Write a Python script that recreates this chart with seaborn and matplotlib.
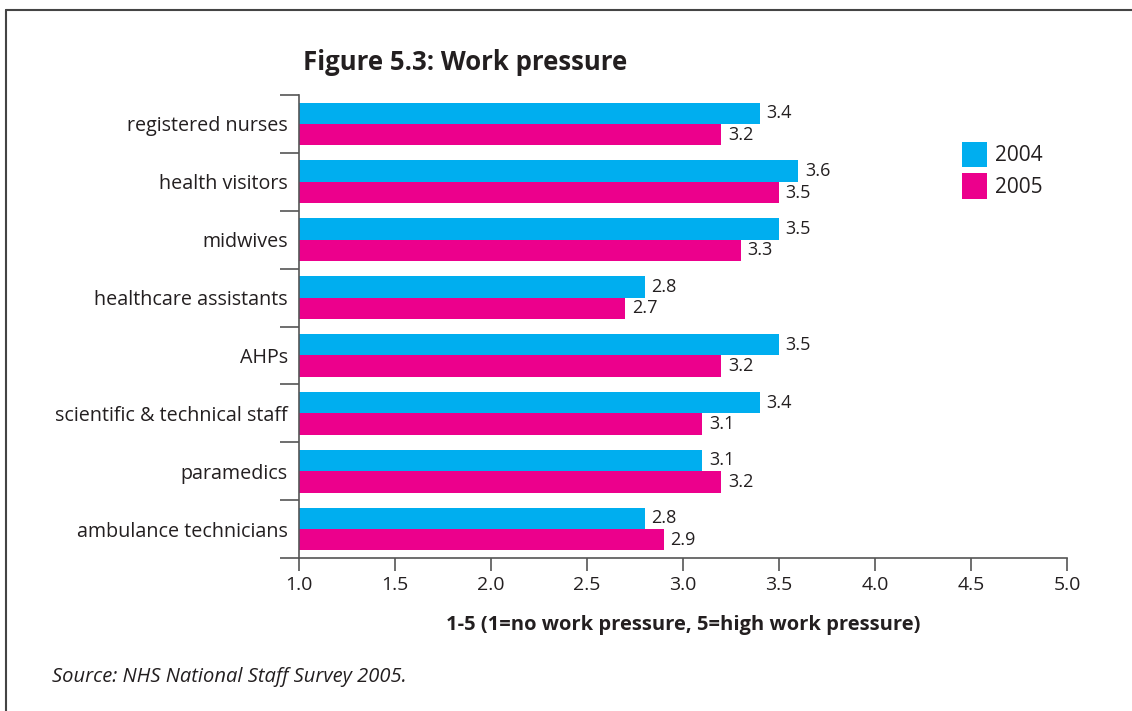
import matplotlib
matplotlib.use("Agg")
import matplotlib.pyplot as plt
from matplotlib.lines import Line2D
from matplotlib.patches import Patch
import seaborn as sns
import pandas as pd

# Staff groups and mean work-pressure scores (1-5 scale)
groups = ["registered nurses", "health visitors", "midwives", "healthcare assistants",
          "AHPs", "scientific & technical staff", "paramedics", "ambulance technicians"]
years = ["2004", "2005"]
score_2004 = [3.4, 3.6, 3.5, 2.8, 3.5, 3.4, 3.1, 2.8]
score_2005 = [3.2, 3.5, 3.3, 2.7, 3.2, 3.1, 3.2, 2.9]
x_ticks = [1.0, 1.5, 2.0, 2.5, 3.0, 3.5, 4.0, 4.5, 5.0]

colors = {"2004": "#00AEEF", "2005": "#EC008C"}
axis_color = "#555555"
text_color = "#231F20"

sns.set_theme(style="white")
plt.rcParams["font.family"] = ["Open Sans", "DejaVu Sans"]

df = pd.DataFrame({
    "group": groups * 2,
    "year": [years[0]] * len(groups) + [years[1]] * len(groups),
    "score": score_2004 + score_2005,
})

fig = plt.figure(figsize=(11.32, 7.11), dpi=100)
ax = fig.add_axes([299 / 1132, 1 - 558 / 711, (1067 - 299) / 1132, (558 - 95) / 711])

sns.barplot(data=df, y="group", x="score", hue="year", order=groups, hue_order=years,
            palette=colors, orient="h", width=0.74, saturation=1, linewidth=0,
            ax=ax, legend=False)

ax.set_xlim(1.0, 5.0)
ax.set_ylim(len(groups) - 0.5, -0.5)

# Value labels at the end of each bar
for container in ax.containers:
    for bar in container:
        val = bar.get_width()
        ax.text(val + 0.035, bar.get_y() + bar.get_height() / 2, f"{val:.1f}",
                va="center", ha="left", fontsize=13, color=text_color)

# Category boundaries as outward y ticks, names as tickless minor labels
ax.set_yticks([i - 0.5 for i in range(len(groups) + 1)])
ax.set_yticklabels([])
ax.set_yticks(range(len(groups)), minor=True)
ax.set_yticklabels(groups, minor=True, fontsize=14.2, color=text_color)
ax.tick_params(axis="y", which="major", length=14, width=1.2, color=axis_color, left=True)
ax.tick_params(axis="y", which="minor", length=0, pad=8)

ax.set_xticks(x_ticks)
ax.set_xticklabels([f"{t:.1f}" for t in x_ticks], fontsize=14, color=text_color)
ax.tick_params(axis="x", length=9, width=1.2, color=axis_color, bottom=True, pad=4)

ax.set_ylabel("")
ax.set_xlabel("1-5 (1=no work pressure, 5=high work pressure)", fontsize=14.5,
              fontweight="bold", color=text_color, labelpad=15)

for side in ["top", "right"]:
    ax.spines[side].set_visible(False)
for side in ["left", "bottom"]:
    ax.spines[side].set_color(axis_color)
    ax.spines[side].set_linewidth(1.2)

# Legend
handles = [Patch(facecolor=colors[y], edgecolor="none", label=y) for y in years]
fig.legend(handles=handles, loc="upper left", bbox_to_anchor=(943 / 1132, 1 - 123 / 711),
           frameon=False, fontsize=15, handlelength=1.2, handleheight=1.5,
           handletextpad=0.4, labelspacing=0.3, labelcolor=text_color)

# Title and source note
fig.text(303 / 1132, 1 - 62 / 711, "Figure 5.3: Work pressure", fontsize=18.5,
         fontweight="bold", color=text_color, va="center", ha="left")
fig.text(52 / 1132, 1 - 677 / 711, "Source: NHS National Staff Survey 2005.", fontsize=14.5,
         style="italic", color=text_color, va="center", ha="left")

# Box frame around the figure
fig.add_artist(Line2D([6 / 1132, 1.0], [1 - 10 / 711, 1 - 10 / 711], color="#444444", lw=1.5))
fig.add_artist(Line2D([6 / 1132, 6 / 1132], [0, 1 - 10 / 711], color="#444444", lw=1.5))

fig.savefig("out.png", dpi=100)
